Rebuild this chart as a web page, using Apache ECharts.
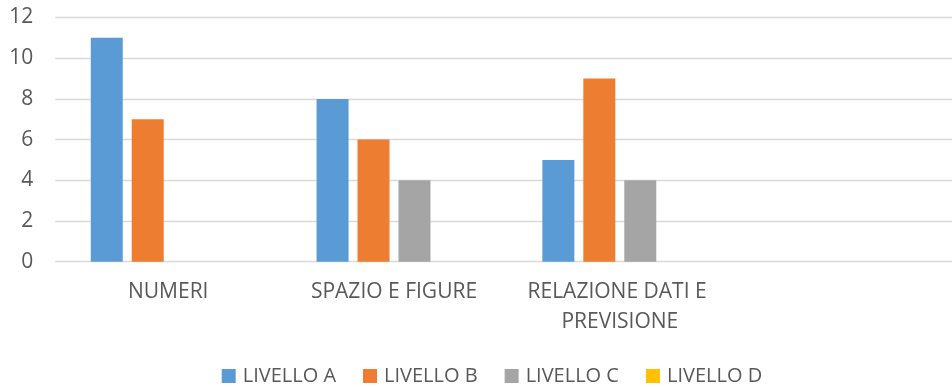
<!DOCTYPE html>
<html>
<head>
<meta charset="utf-8">
<script src="https://cdn.jsdelivr.net/npm/echarts@6/dist/echarts.min.js"></script>
<style>
  html, body { margin: 0; padding: 0; background: #ffffff; }
  #chart { width: 952px; height: 387px; }
</style>
</head>
<body>
<div id="chart"></div>
<script>
// Ambiti di valutazione (l'ultima colonna resta vuota)
const categories = ['NUMERI', 'SPAZIO E FIGURE', 'RELAZIONE DATI E PREVISIONE', ''];

// Numero di alunni per livello
const livelloA = [11, 8, 5, 0];
const livelloB = [7, 6, 9, 0];
const livelloC = [0, 4, 4, 0];
const livelloD = [0, 0, 0, 0];

const seriesNames = ['LIVELLO A', 'LIVELLO B', 'LIVELLO C', 'LIVELLO D'];
const seriesValues = [livelloA, livelloB, livelloC, livelloD];
const seriesColors = ['#5B9BD5', '#ED7D31', '#A5A5A5', '#FFC000'];

const yTicks = { min: 0, max: 12, interval: 2 };

const textColor = '#595959';
const fontFamily = '"Open Sans", sans-serif';

const chart = echarts.init(document.getElementById('chart'), null, { renderer: 'canvas' });

chart.setOption({
  animation: false,
  backgroundColor: '#ffffff',
  textStyle: { fontFamily: fontFamily },
  grid: {
    left: 55.3, top: 17.5, width: 903.2, height: 244.2,
    containLabel: false,
    outerBoundsMode: 'none'
  },
  legend: {
    top: 359,
    left: 216.7,
    icon: 'rect',
    itemWidth: 14,
    itemHeight: 14,
    itemGap: 27,
    textStyle: {
      color: textColor, fontSize: 20, fontFamily: fontFamily,
      lineHeight: 24, padding: [0, 0, 0, 2]
    },
    data: seriesNames
  },
  xAxis: {
    type: 'category',
    data: categories,
    axisLine: { show: false },
    axisTick: { show: false },
    axisLabel: {
      interval: 0,
      color: textColor,
      fontSize: 21,
      fontFamily: fontFamily,
      margin: 15,
      lineHeight: 30,
      width: 200,
      overflow: 'break'
    }
  },
  yAxis: {
    type: 'value',
    min: yTicks.min,
    max: yTicks.max,
    interval: yTicks.interval,
    axisLine: { show: false },
    axisTick: { show: false },
    axisLabel: { color: textColor, fontSize: 21, fontFamily: fontFamily, margin: 22 },
    splitLine: { lineStyle: { color: '#D9D9D9', width: 1.3 } }
  },
  series: seriesNames.map((name, i) => ({
    name: name,
    type: 'bar',
    data: seriesValues[i],
    barWidth: 32,
    barGap: '28%',
    itemStyle: { color: seriesColors[i] }
  }))
});
</script>
</body>
</html>
